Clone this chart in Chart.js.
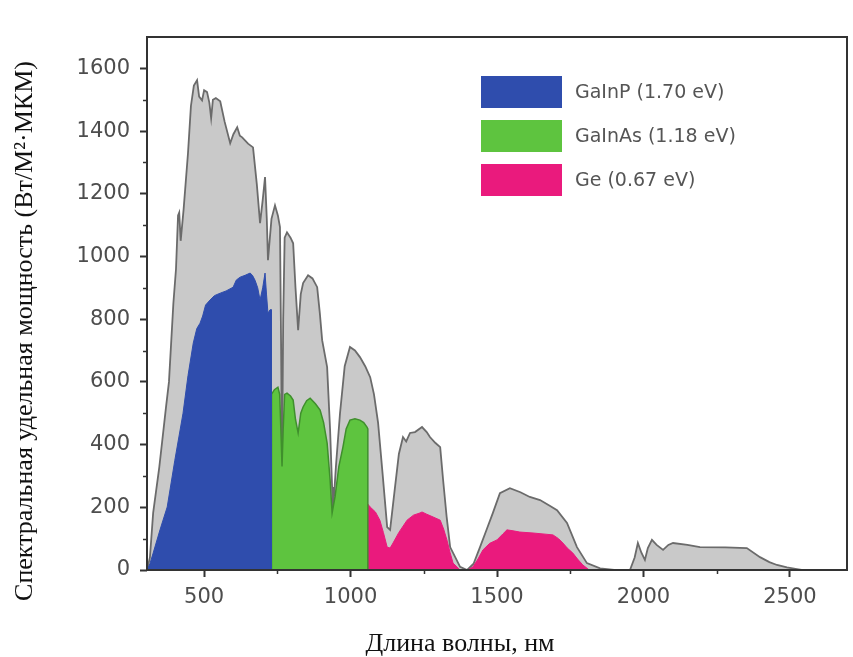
<!DOCTYPE html>
<html>
<head>
<meta charset="utf-8">
<script src="https://cdn.jsdelivr.net/npm/chart.js@4"></script>
<style>
  body { margin: 0; background: #fff; }
  canvas { display: block; }
</style>
</head>
<body>
<canvas id="spectrum-chart" width="853" height="657"></canvas>
<script>
// full solar spectrum (grey area), nm / W per m2 per um
let spectrumNm = [305,315,326,347,370,380,395,404,411,415,420,430,445,455,465,476,483,493,500,510,518,524,530,540,555,570,589,600,613,622,630,650,667,680,691,700,708,714,718,730,742,752,759,763,766,770,775,783,795,804,812,821,830,838,855,870,886,895,903,920,930,937,940,950,964,980,998,1015,1032,1050,1067,1080,1094,1110,1125,1135,1150,1165,1179,1190,1203,1220,1244,1260,1271,1290,1306,1316,1328,1340,1374,1398,1420,1442,1465,1486,1510,1544,1580,1612,1647,1680,1705,1739,1773,1807,1852,1900,1954,1970,1981,1993,2005,2015,2029,2045,2067,2085,2101,2150,2193,2280,2353,2398,2430,2456,2490,2524,2540];
let spectrumVal = [0,40,182,328,520,600,850,960,1131,1140,1050,1150,1330,1480,1545,1562,1510,1498,1530,1524,1490,1441,1500,1505,1495,1430,1361,1390,1412,1385,1380,1360,1348,1230,1106,1180,1253,1120,988,1120,1163,1130,1094,700,330,800,1060,1077,1060,1042,900,765,880,915,940,930,902,820,733,647,450,265,182,330,500,650,711,700,679,650,615,560,469,300,137,128,250,370,424,410,437,440,456,440,424,405,392,287,170,73,10,0,20,73,130,182,245,261,248,233,223,205,191,150,73,22,5,0,0,40,86,55,32,70,96,80,64,80,86,80,73,72,70,41,25,16,8,3,0];

// GaInP (1.70 eV)
let gainpNm = [305,315,326,350,374,400,428,445,463,475,486,495,505,520,535,555,575,599,610,623,640,657,665,674,683,691,700,708,713,718,725,730,730];
let gainpVal = [0,20,54,130,201,350,500,620,724,770,787,810,845,861,875,883,890,902,925,934,940,947,940,924,900,861,900,947,880,819,830,830,0];

// GaInAs (1.18 eV)
let gainasNm = [730,730,740,752,758,762,766,770,775,783,795,804,812,821,830,838,850,862,880,896,908,920,930,937,947,960,974,985,998,1015,1032,1045,1056,1059,1059];
let gainasVal = [0,560,575,583,560,450,330,450,560,564,555,542,480,437,500,520,540,548,530,510,470,405,290,182,233,330,392,450,478,482,478,470,456,450,0];

// Ge (0.67 eV)
let geNm = [1059,1059,1067,1085,1100,1112,1125,1135,1145,1165,1193,1215,1237,1244,1260,1282,1306,1318,1329,1340,1350,1374,1400,1418,1435,1452,1475,1500,1520,1534,1555,1578,1623,1691,1710,1725,1740,1759,1775,1793,1815];
let geVal = [0,210,201,185,159,120,73,70,86,120,159,175,182,185,178,169,159,130,96,55,22,0,0,10,35,64,85,96,115,128,125,121,118,112,100,86,70,54,35,16,0];

let legendLabels = ["GaInP (1.70 eV)", "GaInAs (1.18 eV)", "Ge (0.67 eV)"];
let xTitle = 'Длина волны, нм';
let yTitle = 'Спектральная удельная мощность (Вт/М²·МКМ)';

let xTickValues = [500, 1000, 1500, 2000, 2500];
let xMinorValues = [750, 1250, 1750, 2250];
let yTickValues = [0, 200, 400, 600, 800, 1000, 1200, 1400, 1600];
let yMinorValues = [100, 300, 500, 700, 900, 1100, 1300, 1500];

function pts(xs, ys) {
    return xs.map(function (x, i) { return {x: x, y: ys[i]}; });
}

// box round the plot + minor ticks + axis titles
const framePlugin = {
    id: 'frame',
    afterDraw(chart) {
        const c = chart.ctx;
        const a = chart.chartArea;
        const xs = chart.scales.x;
        const ys = chart.scales.y;
        c.save();
        c.strokeStyle = '#333';
        c.lineWidth = 2;
        c.strokeRect(a.left, a.top, a.right - a.left, a.bottom - a.top);
        c.lineWidth = 1.5;
        for (let v of yMinorValues) {
            let py = Math.round(ys.getPixelForValue(v)) + 0.5;
            c.beginPath(); c.moveTo(a.left, py); c.lineTo(a.left - 4, py); c.stroke();
        }
        for (let v of xMinorValues) {
            let px = Math.round(xs.getPixelForValue(v)) + 0.5;
            c.beginPath(); c.moveTo(px, a.bottom); c.lineTo(px, a.bottom + 4); c.stroke();
        }

        // titles sit a bit off centre in the original
        c.fillStyle = '#111';
        c.textAlign = 'center';
        c.textBaseline = 'middle';
        c.font = '26px "Liberation Serif"';
        c.fillText(xTitle, 460, 644);
        c.translate(25, 331);
        c.rotate(-Math.PI / 2);
        c.fillText(yTitle, 0, 0);
        c.restore();
    }
};

// legend box in the upper right of the plot
const boxLegend = {
    id: 'boxLegend',
    afterDraw(chart) {
        const c = chart.ctx;
        c.save();
        c.font = '19px "DejaVu Sans"';
        c.textBaseline = 'middle';
        let sets = chart.data.datasets.filter(function (d) { return d.inLegend; });
        sets.forEach(function (d, i) {
            let top = 76 + i * 44;
            c.fillStyle = d.backgroundColor;
            c.fillRect(481, top, 81, 32);
            c.fillStyle = '#555';
            c.fillText(d.label, 575, top + 17);
        });
        c.restore();
    }
};

const ctx = document.getElementById('spectrum-chart');
const myChart = new Chart(ctx, {
    type: 'line',
    data: {
        datasets: [
            {
                label: legendLabels[0],
                data: pts(gainpNm, gainpVal),
                backgroundColor: '#2f4dad',
                borderColor: '#2f4dad',
                borderWidth: 1,
                fill: 'origin',
                order: 1,
                inLegend: true
            },
            {
                label: legendLabels[1],
                data: pts(gainasNm, gainasVal),
                backgroundColor: '#5ec43f',
                borderColor: '#3f8f2c',
                borderWidth: 1.5,
                fill: 'origin',
                order: 1,
                inLegend: true
            },
            {
                label: legendLabels[2],
                data: pts(geNm, geVal),
                backgroundColor: '#ea1a7d',
                borderColor: '#ea1a7d',
                borderWidth: 1,
                fill: 'origin',
                order: 1,
                inLegend: true
            },
            {
                label: 'AM1.5',
                data: pts(spectrumNm, spectrumVal),
                backgroundColor: '#c9c9c9',
                borderColor: '#6b6b6b',
                borderWidth: 1.8,
                fill: 'origin',
                order: 2,
                inLegend: false
            }
        ]
    },
    options: {
        responsive: false,
        animation: false,
        devicePixelRatio: 1,
        layout: { padding: { top: 37, right: 6, left: 0, bottom: 0 } },
        elements: {
            point: { radius: 0 },
            line: { tension: 0 }
        },
        plugins: {
            legend: { display: false },
            tooltip: { enabled: false }
        },
        scales: {
            x: {
                type: 'linear',
                min: 305,
                max: 2695,
                afterBuildTicks: function (s) { s.ticks = xTickValues.map(function (v) { return {value: v}; }); },
                afterFit: function (s) { s.height = 87; },
                grid: { display: true, drawOnChartArea: false, tickLength: 7, tickWidth: 2, tickColor: '#333' },
                border: { display: false },
                ticks: {
                    padding: 8,
                    color: '#4d4d4d',
                    font: { family: 'DejaVu Sans', size: 21 },
                    maxRotation: 0,
                    callback: function (v) { return String(v); }
                }
            },
            y: {
                min: 0,
                max: 1700,
                afterBuildTicks: function (s) { s.ticks = yTickValues.map(function (v) { return {value: v}; }); },
                afterFit: function (s) { s.width = 147; },
                grid: { display: true, drawOnChartArea: false, tickLength: 7, tickWidth: 2, tickColor: '#333' },
                border: { display: false },
                ticks: {
                    padding: 10,
                    color: '#4d4d4d',
                    font: { family: 'DejaVu Sans', size: 21 },
                    callback: function (v) { return String(v); }
                }
            }
        }
    },
    plugins: [framePlugin, boxLegend]
});
</script>
</body>
</html>
